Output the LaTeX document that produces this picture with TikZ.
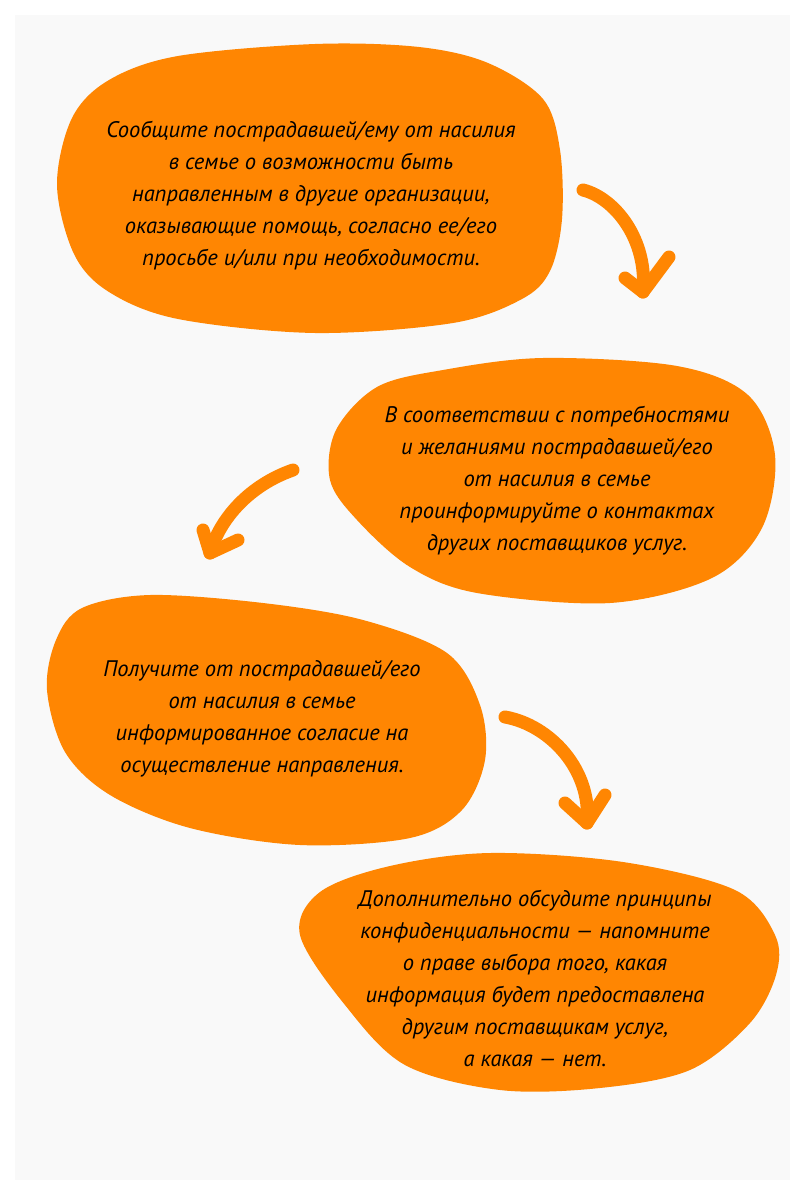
\documentclass[tikz,border=0pt]{standalone}
\usepackage{fontspec}
\setmainfont{PT Sans}
\definecolor{blobor}{HTML}{FF8602}
\definecolor{pagebg}{HTML}{F9F9F9}
\begin{document}
\begin{tikzpicture}[x=1pt,y=-1pt,
  blobfill/.style={fill=blobor},
  stepText/.style={align=center, inner sep=0pt, text=black,
     font=\itshape\fontsize{22.5}{32}\selectfont},
  arrowstroke/.style={draw=blobor, line width=13pt, line cap=round, line join=round}]
\useasboundingbox (0,0) rectangle (790,1180);
\fill[white] (0,0) rectangle (790,1180);
\fill[pagebg] (15,15) rectangle (790,1180);

% blobs
\fill[blobfill] plot[smooth cycle, tension=0.55] coordinates {(57,185) (72,118) (109,80) (178,56) (315,44) (419,47) (488,63) (543,99) (560,150) (562,219) (550,271) (522,299) (453,323) (315,333) (178,319) (109,292) (74,254)};
\fill[blobfill] plot[smooth cycle, tension=0.55] coordinates {(330,480) (336,430) (377,387) (443,370) (543,358) (677,366) (748,395) (775,455) (762,528) (712,578) (610,603) (477,593) (410,567) (357,520)};
\fill[blobfill] plot[smooth cycle, tension=0.55] coordinates {(47,690) (56,640) (82,608) (150,595) (263,603) (363,620) (447,653) (480,705) (485,760) (462,810) (410,838) (300,845) (190,828) (110,795) (65,752)};
\fill[blobfill] plot[smooth cycle, tension=0.55] coordinates {(300,935) (320,892) (390,866) (490,853) (623,862) (735,890) (775,935) (776,975) (750,1023) (690,1070) (600,1088) (500,1090) (405,1065) (345,1005)};

% texts
\node[stepText] (t1) at (311,196) {Сообщите пострадавшей/ему от насилия\\в семье о возможности быть\\направленным в другие организации,\\оказывающие помощь, согласно ее/его\\просьбе и/или при необходимости.};
\node[stepText] (t2) at (557,481) {В соответствии с потребностями\\и желаниями пострадавшей/его\\от насилия в семье\\проинформируйте о контактах\\других поставщиков услуг.};
\node[stepText] (t3) at (262,719) {Получите от пострадавшей/его\\от насилия в семье\\информированное согласие на\\осуществление направления.};
\node[stepText] (t4) at (535,978) {Дополнительно обсудите принципы\\конфиденциальности — напомните\\о праве выбора того, какая\\информация будет предоставлена\\другим поставщикам услуг,\\а какая — нет.};

% arrows
\coordinate (a1s) at (583,190); \coordinate (a1t) at (643,292);
\coordinate (a1l) at (625,278); \coordinate (a1r) at (669,257);
\draw[arrowstroke] (a1s) .. controls (615,198) and (648,240) .. (a1t);
\draw[arrowstroke] (a1l) -- (a1t) -- (a1r);

\coordinate (a2s) at (293,470); \coordinate (a2t) at (210,553);
\coordinate (a2l) at (203,530); \coordinate (a2r) at (238,540);
\draw[arrowstroke] (a2s) .. controls (250,485) and (220,518) .. (a2t);
\draw[arrowstroke] (a2l) -- (a2t) -- (a2r);

\coordinate (a3s) at (505,717); \coordinate (a3t) at (587,823);
\coordinate (a3l) at (565,803); \coordinate (a3r) at (605,795);
\draw[arrowstroke] (a3s) .. controls (550,725) and (592,770) .. (a3t);
\draw[arrowstroke] (a3l) -- (a3t) -- (a3r);
\end{tikzpicture}
\end{document}
